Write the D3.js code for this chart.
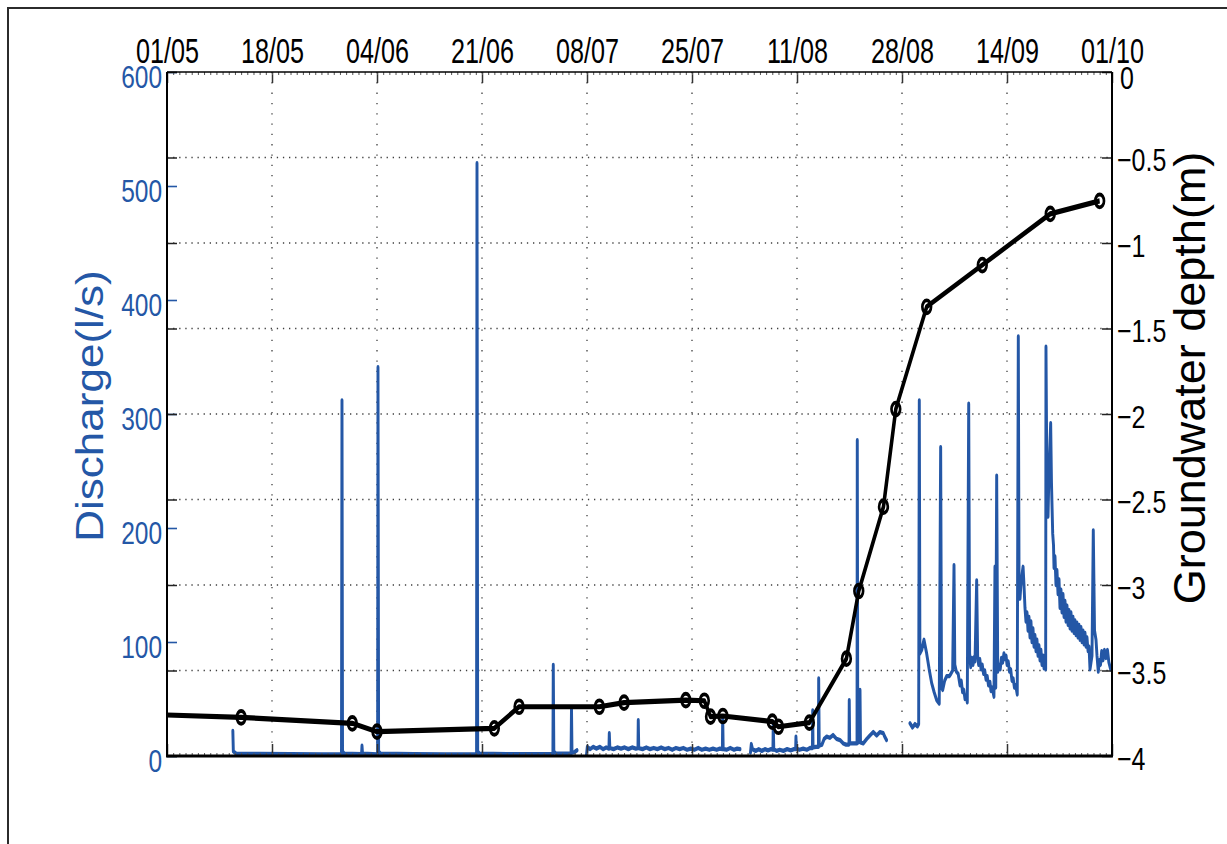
<!DOCTYPE html>
<html>
<head>
<meta charset="utf-8">
<script src="https://cdn.jsdelivr.net/npm/d3@7"></script>
<style>
  body { margin: 0; background: #fff; }
  svg { display: block; }
  text { font-family: "Liberation Sans", Arial, Helvetica, sans-serif; }
</style>
</head>
<body>
<svg id="chart" width="1227" height="844"></svg>
<script>
// ---- data -------------------------------------------------------------
const seasonStart = "2013-05-01";
const seasonEnd = "2013-10-01";
const dateTicks = ["2013-05-01", "2013-05-18", "2013-06-04", "2013-06-21", "2013-07-08",
                   "2013-07-25", "2013-08-11", "2013-08-28", "2013-09-14", "2013-10-01"];
const dischargeTicks = [0, 100, 200, 300, 400, 500, 600];
const depthTicks = [0, -0.5, -1, -1.5, -2, -2.5, -3, -3.5, -4];

// groundwater depth (m), manual well readings
const depthDates = ["2013-04-29", "2013-05-13", "2013-05-31", "2013-06-04", "2013-06-23", "2013-06-27",
                    "2013-07-10", "2013-07-14", "2013-07-24", "2013-07-27", "2013-07-28", "2013-07-30",
                    "2013-08-07", "2013-08-08", "2013-08-13", "2013-08-19", "2013-08-21", "2013-08-25",
                    "2013-08-27", "2013-09-01", "2013-09-10", "2013-09-21", "2013-09-29"];
const depthValues = [-3.758, -3.774, -3.809, -3.858, -3.838, -3.712,
                     -3.712, -3.688, -3.673, -3.677, -3.770, -3.766,
                     -3.799, -3.829, -3.805, -3.431, -3.035, -2.542,
                     -1.971, -1.373, -1.129, -0.830, -0.754];

// discharge (l/s) logger records: [days since 1 May, value]; one array per logger download
const dischargeRecord1 = [
  [10.66, 22], [10.74, 4], [11.2, 2], [15, 1.8], [20, 1.6], [25, 1.5], [28.25, 1.5], [28.33, 312],
  [28.42, 4], [28.7, 2], [30, 1.8], [31.5, 1.6], [31.57, 9], [31.66, 2], [34.1, 1.5], [34.16, 341],
  [34.26, 4], [34.6, 2], [40, 1.6], [45, 1.5], [50.12, 1.5], [50.19, 520], [50.3, 4], [50.6, 2],
  [55, 1.7], [60, 1.6], [62.48, 1.8], [62.54, 80], [62.63, 4], [63, 2], [65.42, 2], [65.49, 42],
  [65.57, 3], [66.0, 3.5], [66.38, 5]
];
const dischargeRecord2 = [
  [67.92, 1], [68.05, 8], [68.5, 6], [69.0, 8], [69.5, 6.5], [70.1, 8], [70.6, 6], [71.1, 7.5],
  [71.55, 6.5], [71.61, 20], [71.7, 7], [72.3, 6], [72.9, 7.5], [73.5, 6.5], [74.1, 7.5], [74.7, 6],
  [75.3, 7.5], [75.9, 6.5], [76.25, 7], [76.3, 31.5], [76.38, 7], [77.0, 6], [77.6, 7.5], [78.2, 6],
  [78.8, 7], [79.4, 6], [80.0, 7.5], [80.6, 6], [81.2, 7], [81.8, 5.5], [82.4, 7], [83.0, 6],
  [83.6, 7], [84.2, 5.5], [84.8, 6.5], [85.4, 5.5], [86.0, 7], [86.6, 5.5], [87.2, 6.5], [87.8, 5.5],
  [88.4, 6.5], [89.0, 5.5], [89.5, 6.5], [89.92, 6], [89.97, 35], [90.05, 6], [90.6, 5.5], [91.2, 7],
  [91.8, 5.5], [92.3, 6.5], [92.77, 6]
];
const dischargeRecord3 = [
  [94.47, 3], [94.6, 10.5], [94.8, 6], [95.3, 4.5], [95.8, 6], [96.3, 4.5], [96.8, 6], [97.3, 5],
  [97.8, 6], [98.1, 5.5], [98.16, 30], [98.24, 6], [98.7, 4.5], [99.2, 5.5], [99.8, 4.5], [100.4, 6],
  [101.0, 5], [101.5, 6], [101.78, 6], [101.83, 17], [101.9, 6.5], [102.4, 5.5], [103.0, 6.5],
  [103.6, 5.5], [104.1, 7], [104.5, 7], [104.54, 40], [104.6, 7.5], [105.06, 8], [105.47, 8],
  [105.51, 68], [105.6, 9], [106.04, 10], [106.4, 15], [106.81, 17], [107.3, 16], [107.83, 18.4],
  [108.4, 15], [108.96, 14], [109.5, 11], [109.93, 10], [110.42, 10], [110.46, 49], [110.53, 11],
  [111.11, 11], [111.72, 11], [111.76, 277], [111.84, 16], [112.0, 12], [112.15, 14], [112.2, 58],
  [112.28, 12], [112.73, 11], [113.3, 15], [113.8, 18], [114.35, 21], [114.9, 18], [115.43, 21],
  [115.96, 20], [116.2, 17], [116.5, 14]
];
const dischargeRecord4 = [
  [120.29, 28.7], [120.7, 25], [121.1, 28], [121.5, 26], [121.7, 28], [121.8, 312], [121.9, 90],
  [122.19, 93], [122.56, 102], [122.99, 90], [123.4, 76], [123.8, 64], [124.2, 56], [124.61, 49],
  [125.03, 46], [125.26, 271], [125.4, 60], [125.59, 58], [125.9, 66], [126.23, 70], [126.65, 70],
  [126.9, 72], [127.2, 75], [127.42, 167.5], [127.55, 80], [127.8, 74], [128.1, 72], [128.39, 62],
  [128.6, 66], [128.8, 56], [129.0, 58], [129.2, 50], [129.4, 53], [129.57, 47], [129.8, 309],
  [129.95, 90], [130.12, 78], [130.3, 86], [130.5, 80], [130.7, 87], [130.82, 83], [131.09, 154],
  [131.25, 88], [131.4, 80], [131.6, 85], [131.8, 76], [132.0, 80], [132.2, 72], [132.4, 75],
  [132.6, 67], [132.8, 70], [133.0, 62], [133.24, 65], [133.4, 57], [133.6, 60], [133.89, 52],
  [134.05, 166], [134.18, 60], [134.33, 246], [134.5, 74], [134.7, 80], [134.9, 76], [135.1, 86],
  [135.3, 82], [135.5, 90], [135.67, 85], [135.85, 88], [136.0, 80], [136.2, 83], [136.4, 74],
  [136.6, 76], [136.8, 66], [137.0, 68], [137.2, 60], [137.4, 62], [137.66, 54], [137.83, 368],
  [137.95, 148], [138.1, 138], [138.25, 150], [138.45, 160], [138.6, 166], [138.75, 150],
  [138.91, 130], [139.07, 118], [139.24, 126], [139.40, 110], [139.56, 122], [139.72, 104],
  [139.88, 118], [140.04, 100], [140.21, 112], [140.37, 96], [140.53, 106], [140.69, 92],
  [140.85, 102], [141.02, 88], [141.18, 97], [141.34, 84], [141.50, 93], [141.66, 80], [141.83, 88],
  [141.99, 77], [142.15, 82], [142.26, 76], [142.31, 359], [142.47, 230], [142.64, 210],
  [142.80, 250], [143.07, 292], [143.2, 240], [143.4, 195], [143.53, 185], [143.61, 165],
  [143.77, 175], [143.93, 150], [144.09, 163], [144.26, 142], [144.42, 155], [144.58, 130],
  [144.74, 146], [144.90, 126], [145.07, 142], [145.23, 122], [145.39, 136], [145.55, 118],
  [145.71, 132], [145.88, 115], [146.04, 128], [146.20, 112], [146.36, 126], [146.52, 110],
  [146.69, 122], [146.85, 108], [147.01, 119], [147.17, 106], [147.33, 117], [147.50, 104],
  [147.66, 115], [147.82, 102], [147.98, 113], [148.14, 100], [148.31, 110], [148.47, 98],
  [148.63, 108], [148.79, 96], [148.95, 104], [149.12, 92], [149.28, 96], [149.44, 76], [149.6, 82],
  [149.76, 88], [149.97, 198], [150.17, 110], [150.41, 102], [150.57, 88], [150.78, 74],
  [150.97, 84], [151.14, 80], [151.33, 92], [151.54, 84], [151.78, 93], [152.02, 86], [152.26, 93],
  [152.50, 82], [152.78, 76]
];
const dischargeRecords = [dischargeRecord1, dischargeRecord2, dischargeRecord3, dischargeRecord4];

// ---- layout -----------------------------------------------------------
const X0 = 167, X1 = 1112, Y0 = 72, Y1 = 756;
const SX = 0.68;               // horizontal squeeze of the data layer (thin verticals, oval markers)
const BLUE = "#2457a6";

const svg = d3.select("#chart");
const parse = d3.utcParse("%Y-%m-%d");
const t0 = parse(seasonStart), t1 = parse(seasonEnd);
const dayToDate = d => new Date(t0.getTime() + d * 864e5);

const x = d3.scaleUtc().domain([t0, t1]).range([X0, X1]);
const xl = d3.scaleUtc().domain([t0, t1]).range([X0 / SX, X1 / SX]);
const yQ = d3.scaleLinear().domain([0, 600]).range([Y1, Y0]);
const yD = d3.scaleLinear().domain([-4, 0]).range([Y1, Y0]);

// figure frame
svg.append("rect").attr("x", 8).attr("y", 8).attr("width", 1400).attr("height", 1000)
  .attr("fill", "none").attr("stroke", "#2b2b2b").attr("stroke-width", 2);

// ---- grid -------------------------------------------------------------
const grid = svg.append("g").attr("stroke", "#3f3f3f").attr("stroke-width", 1.3);
grid.selectAll("line.h").data(depthTicks.filter(d => d < 0 && d > -4)).join("line")
  .attr("x1", X0).attr("x2", X1).attr("y1", d => yD(d)).attr("y2", d => yD(d))
  .attr("stroke-dasharray", "1.3 4.8");
grid.selectAll("line.v").data(dateTicks.slice(1, -1).map(parse)).join("line")
  .attr("x1", d => x(d)).attr("x2", d => x(d)).attr("y1", Y0).attr("y2", Y1)
  .attr("stroke-dasharray", "1.3 9");

// ---- data layer -------------------------------------------------------
svg.append("defs").append("clipPath").attr("id", "plotClip")
  .append("rect").attr("x", X0).attr("y", Y0).attr("width", X1 - X0).attr("height", Y1 - Y0);
const layer = svg.append("g").attr("clip-path", "url(#plotClip)")
  .append("g").attr("transform", `scale(${SX},1)`);

const qLine = d3.line().x(d => xl(dayToDate(d[0]))).y(d => yQ(d[1]));
layer.selectAll("path.q").data(dischargeRecords).join("path")
  .attr("d", qLine).attr("fill", "none").attr("stroke", BLUE)
  .attr("stroke-width", 4.3).attr("stroke-linejoin", "round").attr("stroke-linecap", "round");

const depth = depthDates.map((d, i) => ({ date: parse(d), v: depthValues[i] }));
const dLine = d3.line().x(d => xl(d.date)).y(d => yD(d.v));
layer.append("path").attr("d", dLine(depth)).attr("fill", "none").attr("stroke", "#000")
  .attr("stroke-width", 5.2).attr("stroke-linejoin", "round");
layer.selectAll("circle").data(depth.filter(d => d.date >= t0)).join("circle")
  .attr("cx", d => xl(d.date)).attr("cy", d => yD(d.v)).attr("r", 6.4)
  .attr("fill", "none").attr("stroke", "#000").attr("stroke-width", 3.9);

// ---- axes -------------------------------------------------------------
const fmtDate = d3.utcFormat("%d/%m");
const topAxis = svg.append("g").attr("transform", `translate(0,${Y0})`)
  .call(d3.axisTop(x).tickValues(dateTicks.map(parse)).tickFormat(fmtDate)
    .tickSize(-11).tickSizeOuter(0).tickPadding(9));
topAxis.select(".domain").remove();
topAxis.selectAll(".tick line").attr("stroke", "#333").attr("stroke-width", 1.5);
topAxis.selectAll(".tick text").attr("fill", "#000").attr("font-size", 36)
  .attr("transform", "scale(0.7,1)");

const days = d3.utcDay.range(t0, t1);
const topMinor = svg.append("g").attr("transform", `translate(0,${Y0})`)
  .call(d3.axisTop(x).tickValues(days).tickFormat("").tickSize(-3).tickSizeOuter(0));
topMinor.select(".domain").remove();
topMinor.selectAll(".tick line").attr("stroke", "#555");

const botAxis = svg.append("g").attr("transform", `translate(0,${Y1})`)
  .call(d3.axisBottom(x).tickValues(dateTicks.map(parse)).tickFormat("").tickSize(-12).tickSizeOuter(0));
botAxis.select(".domain").remove();
botAxis.selectAll(".tick line").attr("stroke", "#333").attr("stroke-width", 1.5);
const botMinor = svg.append("g").attr("transform", `translate(0,${Y1})`)
  .call(d3.axisBottom(x).tickValues(days).tickFormat("").tickSize(-3).tickSizeOuter(0));
botMinor.select(".domain").remove();
botMinor.selectAll(".tick line").attr("stroke", "#555");

// left: discharge
const leftAxis = svg.append("g").attr("transform", `translate(${X0},0)`)
  .call(d3.axisLeft(yQ).tickValues(dischargeTicks).tickSize(-10).tickSizeOuter(0).tickPadding(5));
leftAxis.select(".domain").remove();
leftAxis.selectAll(".tick line").attr("stroke", BLUE).attr("stroke-width", 1.6);
leftAxis.selectAll(".tick text").attr("fill", BLUE).attr("font-size", 31)
  .attr("x", 0).attr("dy", null).attr("y", 15)
  .attr("transform", "translate(-5,0) scale(0.79,1)");

// depth ticks mirrored on the left side
const leftDepth = svg.append("g").attr("transform", `translate(${X0},0)`)
  .call(d3.axisLeft(yD).tickValues(depthTicks).tickFormat("").tickSize(-10).tickSizeOuter(0));
leftDepth.select(".domain").remove();
leftDepth.selectAll(".tick line").attr("stroke", "#222").attr("stroke-width", 1.5);

// right: groundwater depth
const fmtDepth = d => d === 0 ? "0" : d3.format(".1~f")(d);
const rightAxis = svg.append("g").attr("transform", `translate(${X1},0)`)
  .call(d3.axisRight(yD).tickValues(depthTicks).tickFormat(fmtDepth).tickSize(-10).tickSizeOuter(0).tickPadding(5));
rightAxis.select(".domain").remove();
rightAxis.selectAll(".tick line").attr("stroke", "#222").attr("stroke-width", 1.5);
rightAxis.selectAll(".tick text").attr("fill", "#000").attr("font-size", 32)
  .attr("x", 0).attr("dy", null).attr("y", 13)
  .attr("transform", "translate(5,0) scale(0.78,1)");
// the "0" label sits just right of the last date label
rightAxis.selectAll(".tick text").filter(d => d === 0)
  .attr("transform", "translate(8,0) scale(0.78,1)").attr("y", 16);

// plot box
const box = svg.append("g").attr("stroke", "#000");
box.append("line").attr("x1", X0).attr("x2", X1).attr("y1", Y0).attr("y2", Y0).attr("stroke-width", 1.6);
box.append("line").attr("x1", X0 - 1).attr("x2", X1 + 1).attr("y1", Y1).attr("y2", Y1).attr("stroke-width", 2.8);
box.append("line").attr("x1", X0).attr("x2", X0).attr("y1", Y0).attr("y2", Y1).attr("stroke-width", 2);
box.append("line").attr("x1", X1).attr("x2", X1).attr("y1", Y0).attr("y2", Y1).attr("stroke-width", 2);

// axis titles
svg.append("text").attr("transform", "translate(103,406) rotate(-90) scale(1,0.88)")
  .attr("text-anchor", "middle").attr("font-size", 44).attr("fill", BLUE)
  .text("Discharge(l/s)");
svg.append("text").attr("transform", "translate(1205,378) rotate(-90)")
  .attr("text-anchor", "middle").attr("font-size", 45).attr("fill", "#000")
  .text("Groundwater depth(m)");
</script>
</body>
</html>
